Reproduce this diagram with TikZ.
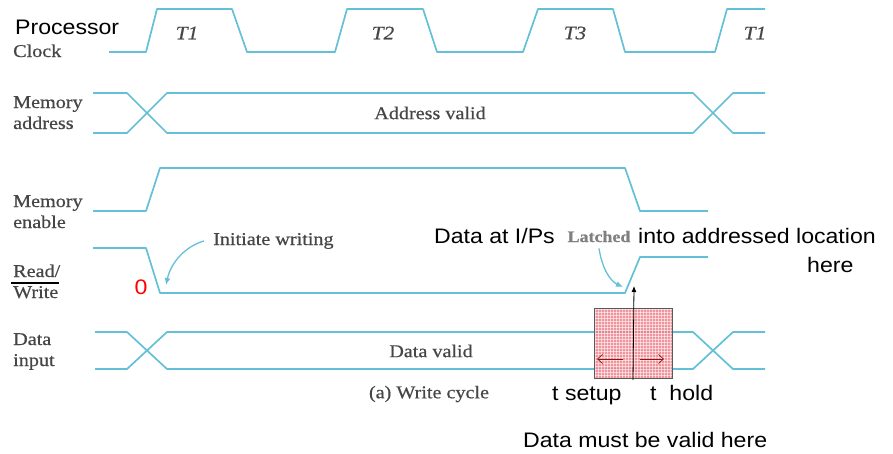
\documentclass[tikz,border=0pt]{standalone}
\usepackage{fontspec}
\setmainfont{Liberation Serif}[FakeStretch=1.12,FakeBold=0.6]
\newfontfamily\arialfont{Liberation Sans}[FakeStretch=1.1]
\usetikzlibrary{arrows.meta}
\definecolor{wave}{RGB}{100,192,215}
\definecolor{lblgray}{RGB}{70,70,70}
\definecolor{boxpink}{RGB}{238,130,140}
\definecolor{darkred}{RGB}{140,20,20}
\begin{document}
\begin{tikzpicture}[x=1pt,y=-1pt,
  sig/.style={draw=wave, line width=1.7pt, line join=round},
  serif/.style={text=lblgray, font=\fontsize{18}{20}\selectfont, inner sep=0pt},
  tlabel/.style={serif, font=\fontsize{19}{21}\selectfont\itshape},
  sans/.style={text=black, font=\arialfont\fontsize{21}{23}\selectfont, inner sep=0pt},
  bluearrow/.style={draw=wave, line width=1.3pt, -{Latex[length=7pt,width=6pt]}},
  tarrow/.style={draw=darkred, line width=0.7pt, -{Straight Barb[length=5pt,width=9pt]}}]
\useasboundingbox (0,0) rectangle (893,453);

% ---- waveforms ----
% processor clock
\draw[sig] (109,52) -- (146,52) -- (157,9) -- (232,9) -- (247,52) -- (335,52)
  -- (347,9) -- (423,9) -- (437,52) -- (523,52) -- (538,9) -- (613,9)
  -- (625,52) -- (715,52) -- (727,9) -- (765,9);
% memory address bus
\draw[sig] (93,93) -- (127,93) -- (167,133) -- (693,133) -- (733,93) -- (765,93);
\draw[sig] (93,133) -- (127,133) -- (167,93) -- (693,93) -- (733,133) -- (765,133);
% memory enable
\draw[sig] (93,211) -- (146,211) -- (160,168) -- (625,168) -- (640,211) -- (708,211);
% read / write
\draw[sig] (93,248) -- (146,248) -- (160,293) -- (625,293) -- (640,257) -- (708,257);
% data input bus
\draw[sig] (95,332) -- (127,332) -- (167,369) -- (693,369) -- (733,332) -- (765,332);
\draw[sig] (95,369) -- (127,369) -- (167,332) -- (693,332) -- (733,369) -- (765,369);

% ---- setup / hold window ----
\begin{scope}
  \clip (594,308) rectangle (672,378);
  \fill[boxpink, fill opacity=0.85] (594,308) rectangle (672,378);
  \foreach \gx in {595.5,598.5,...,672} \draw[white, line width=0.7pt, opacity=0.55] (\gx,308) -- (\gx,378);
  \foreach \gy in {309.5,312.5,...,378} \draw[white, line width=0.7pt, opacity=0.55] (594,\gy) -- (672,\gy);
\end{scope}
\node[draw={rgb,255:red,90;green,90;blue,90}, line width=0.8pt, minimum width=78pt,
  minimum height=70pt, inner sep=0pt, anchor=north west] (win) at (594,308) {};

\coordinate (vbot) at (633,380);
\coordinate (vtop) at (634,286);
\draw[black, line width=0.8pt, -{Latex[length=6pt,width=5pt]}] (vbot) -- (vtop);

\coordinate (su0) at (623,359);
\coordinate (su1) at (597,359);
\coordinate (ho0) at (640,359);
\coordinate (ho1) at (664,359);
\draw[tarrow] (su0) -- (su1);
\draw[tarrow] (ho0) -- (ho1);

% ---- signal names ----
\node[sans, anchor=base west] (proc) at (15,34) {Processor};
\node[serif, anchor=base west] (clk) at (13,57) {Clock};
\node[serif, anchor=base west] (ma1) at (13,108) {Memory};
\node[serif, anchor=base west] (ma2) at (13,129) {address};
\node[serif, anchor=base west] (me1) at (13,207) {Memory};
\node[serif, anchor=base west] (me2) at (13,228) {enable};
\node[serif, anchor=base west] (rw1) at (13,277) {Read/};
\node[serif, anchor=base west] (rw2) at (13,298) {Write};
\draw[black, line width=1.3pt] (11,283) -- (59,283);
\node[serif, anchor=base west] (di1) at (13,345) {Data};
\node[serif, anchor=base west] (di2) at (13,366) {input};

% ---- clock phases ----
\node[tlabel] (t1) at (187,33) {T1};
\node[tlabel] (t2) at (383,33) {T2};
\node[tlabel] (t3) at (575,33) {T3};
\node[tlabel] (t4) at (755,33) {T1};

% ---- bus contents ----
\node[serif] (addr) at (430,113) {Address valid};
\node[serif] (dval) at (431,351) {Data valid};
\node[serif] (cap) at (429,394) {(a) Write cycle};

% ---- annotations ----
\node[serif, anchor=base west] (initw) at (213,245) {Initiate writing};
\node[text=red, font=\arialfont\fontsize{21}{23}\selectfont, inner sep=0pt] (zero) at (141,287) {0};
\coordinate (rwfall) at (166,285);
\draw[bluearrow] ([xshift=-9pt]initw.west) .. controls (186,246) and (171,262) .. (rwfall);

\node[sans, anchor=base east] (dip) at (555,243) {Data at I/Ps};
\node[serif, font=\fontsize{16}{18}\selectfont\bfseries, text=gray, anchor=base] (latch) at (599,242) {Latched};
\node[sans, anchor=base west] (into) at (638,243) {into addressed location};
\node[sans, anchor=base west] (here) at (807,272) {here};
\coordinate (rwrise) at (623,287);
\draw[bluearrow] ([yshift=-6pt]latch.south) .. controls (602,268) and (610,281) .. (rwrise);

\node[sans, anchor=base west] (tsu) at (552,400) {t setup};
\node[sans, anchor=base west] (tho) at (650,400) {t\ \ hold};
\node[sans, anchor=base west] (must) at (523,447) {Data must be valid here};
\end{tikzpicture}
\end{document}
